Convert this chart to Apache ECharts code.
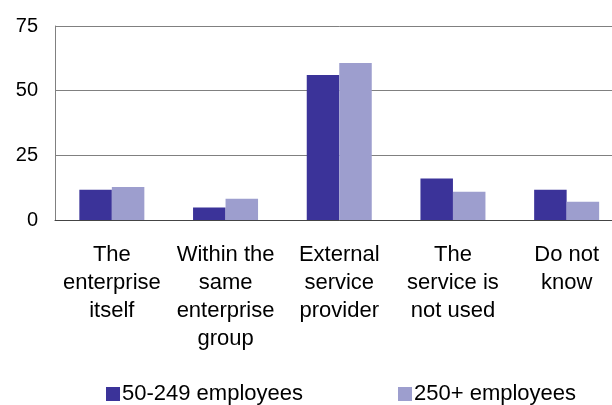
<!DOCTYPE html>
<html><head><meta charset="utf-8">
<script src="https://cdn.jsdelivr.net/npm/echarts@6/dist/echarts.min.js"></script>
<style>html,body{margin:0;padding:0;background:#fff;overflow:hidden;width:612px;height:405px}#c{width:624px;height:405px}</style>
</head><body><div id="c"></div>
<script>
const categories = ["The\nenterprise\nitself", "Within the\nsame\nenterprise\ngroup", "External\nservice\nprovider", "The\nservice is\nnot used", "Do not\nknow"];
const seriesNames = ["50-249 employees", "250+ employees"];
const smallEnt = [11.7, 4.8, 56.1, 16.0, 11.7];
const largeEnt = [12.8, 8.2, 60.7, 10.9, 7.1];
const yTicks = [0, 25, 50, 75];

const chart = echarts.init(document.getElementById('c'), null, {renderer: 'canvas'});
chart.setOption({
  animation: false,
  backgroundColor: '#fff',
  textStyle: {fontFamily: 'Liberation Sans, Arial, sans-serif'},
  grid: {left: 55, right: 0.5, top: 26, height: 194, containLabel: false},
  legend: {
    left: 101, top: 378, itemWidth: 14, itemHeight: 14, itemGap: 95,
    icon: 'rect',
    textStyle: {fontSize: 22, color: '#000', fontFamily: 'Liberation Sans, Arial, sans-serif', padding: [0,0,0,-3]},
    data: seriesNames
  },
  xAxis: {
    type: 'category', data: categories,
    axisLine: {lineStyle: {color: '#444', width: 1}},
    axisTick: {show: false},
    axisLabel: {interval: 0, fontSize: 22, lineHeight: 28, color: '#000', margin: 21, fontFamily: 'Liberation Sans, Arial, sans-serif'}
  },
  yAxis: {
    type: 'value', min: yTicks[0], max: yTicks[yTicks.length-1], interval: 25,
    axisLine: {show: true, lineStyle: {color: '#808080', width: 1}},
    axisTick: {show: false},
    splitLine: {lineStyle: {color: '#808080', width: 1}},
    axisLabel: {fontSize: 20, color: '#000', margin: 17, fontFamily: 'Liberation Sans, Arial, sans-serif'}
  },
  series: [
    {name: seriesNames[0], type: 'bar', data: smallEnt, barWidth: 32.5, barGap: '0%', itemStyle: {color: '#3B3399'}},
    {name: seriesNames[1], type: 'bar', data: largeEnt, barWidth: 32.5, barGap: '0%', itemStyle: {color: '#9D9ECE'}}
  ]
});
</script></body></html>
